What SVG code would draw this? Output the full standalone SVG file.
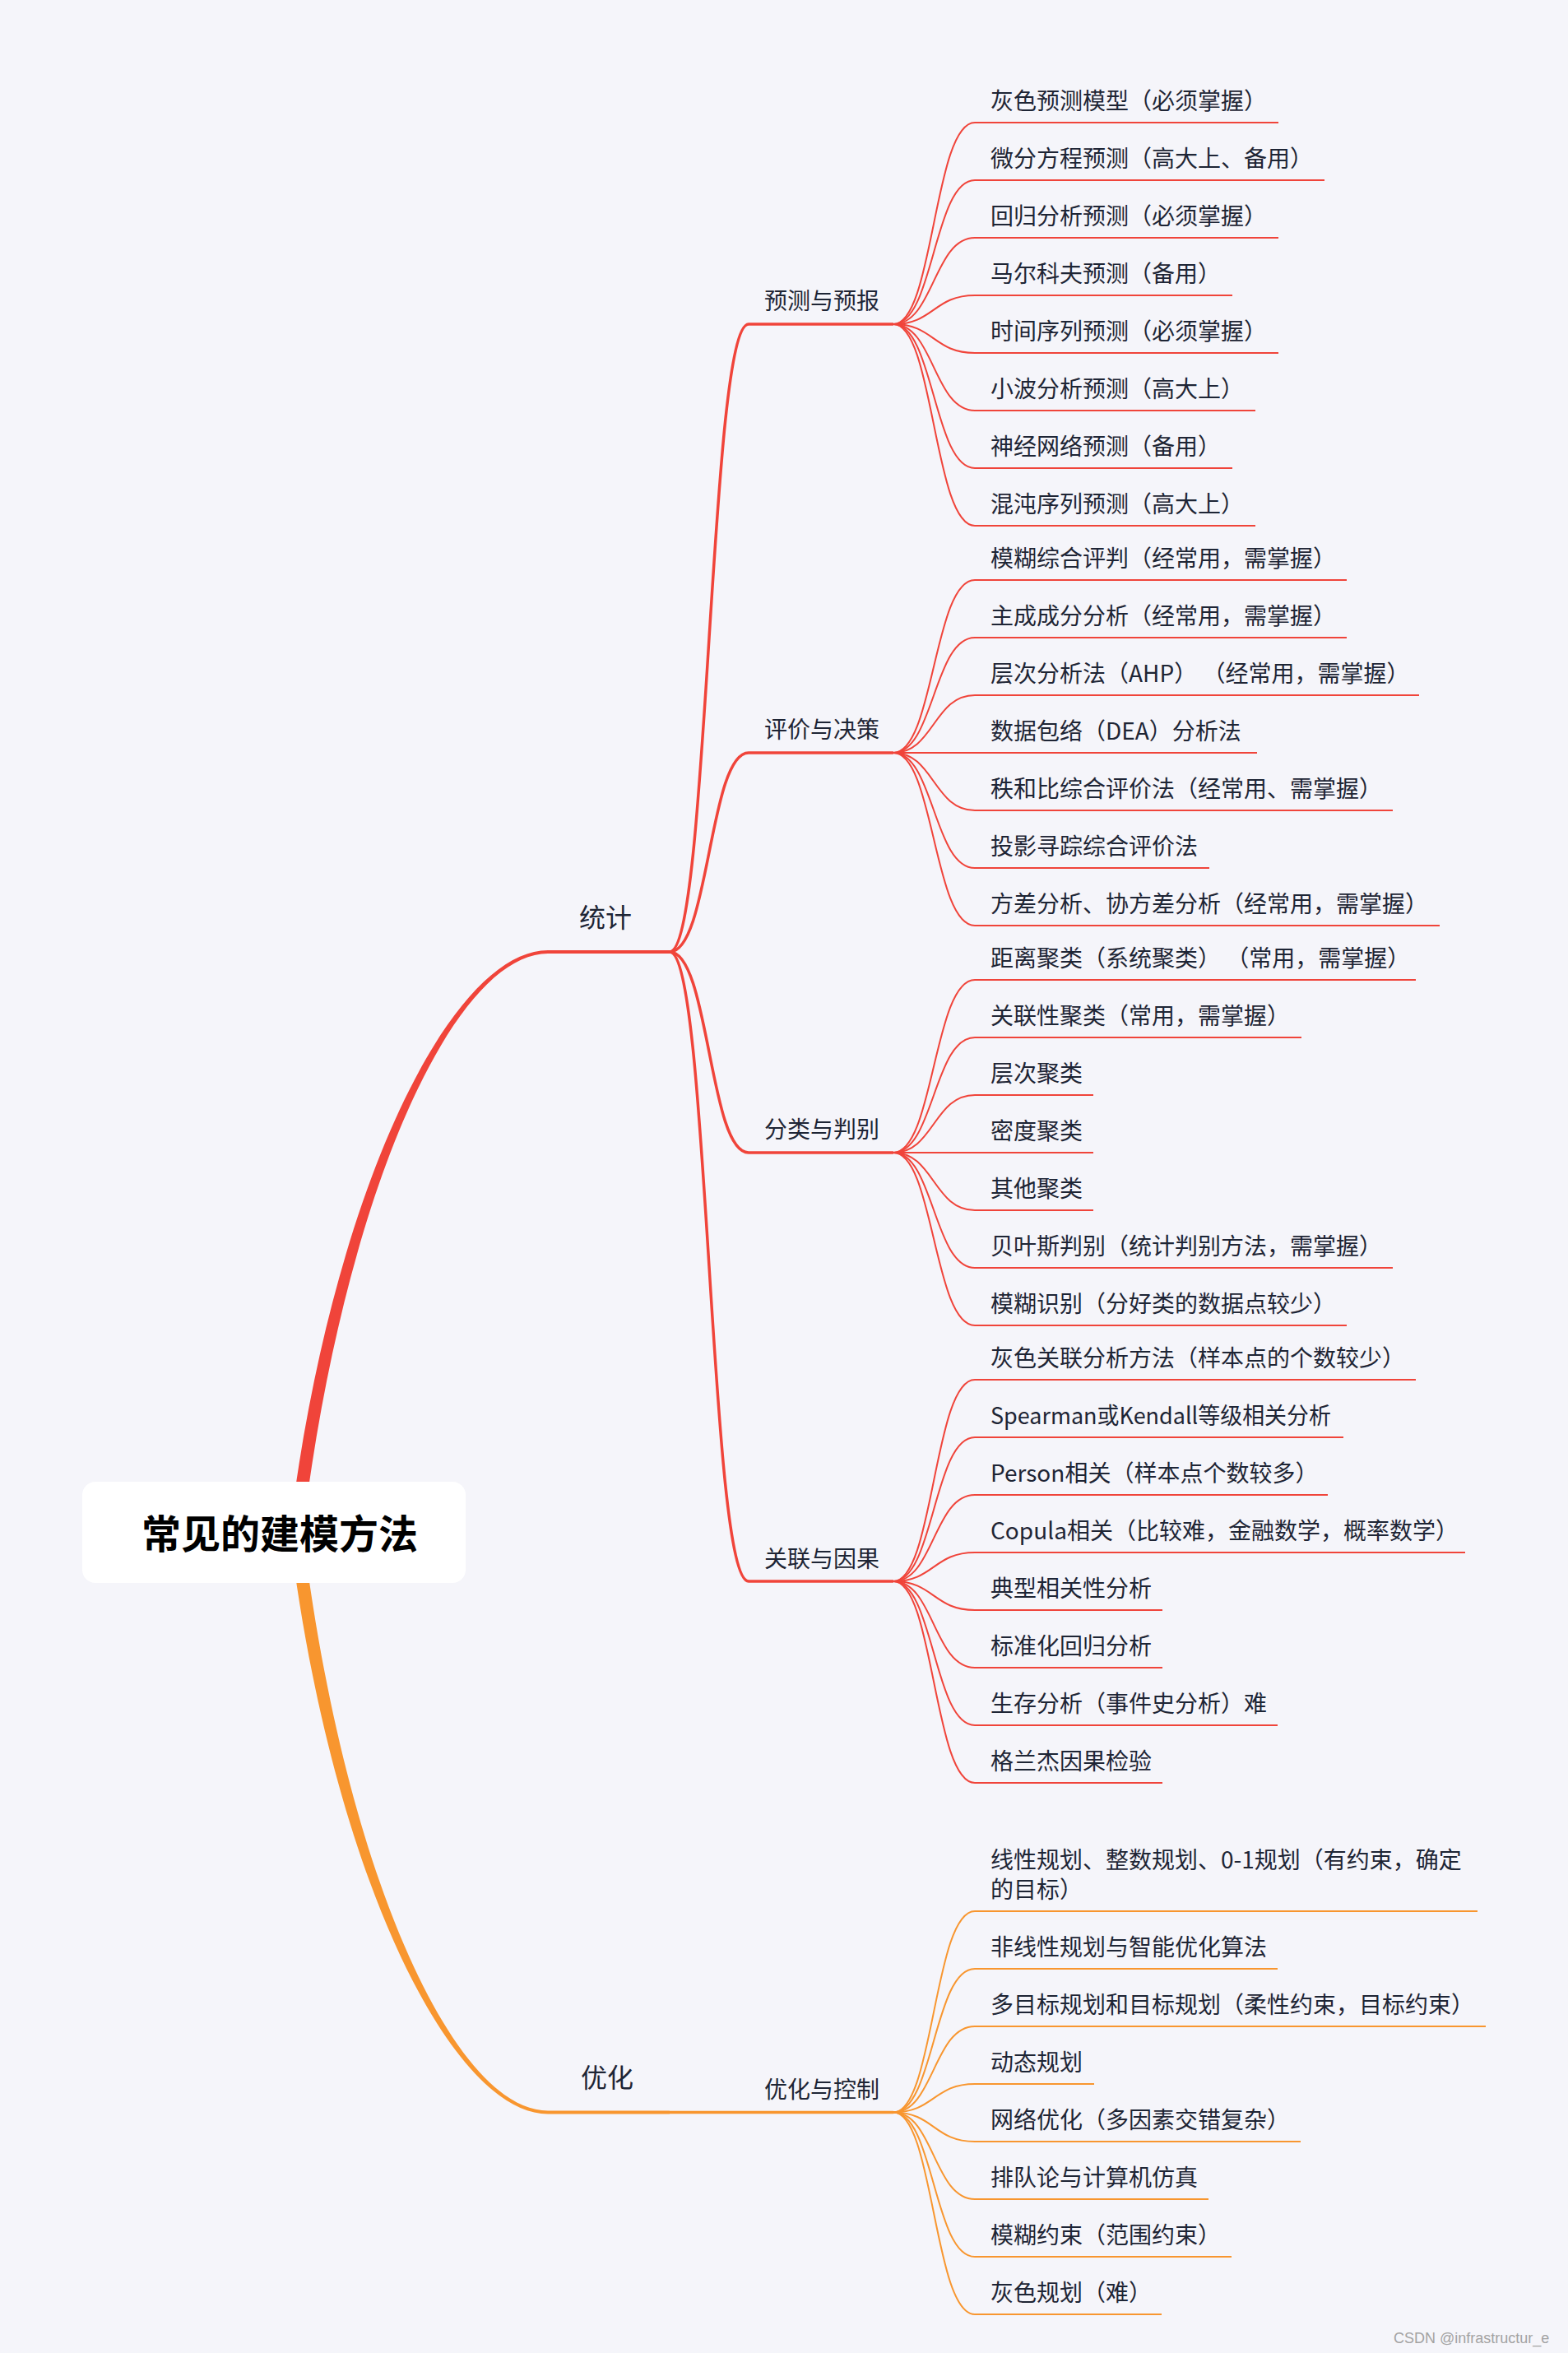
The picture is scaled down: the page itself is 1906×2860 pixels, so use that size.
<svg xmlns="http://www.w3.org/2000/svg" width="1906" height="2860" viewBox="0 0 1906 2860">
<style>
.t{font-family:"Noto Sans CJK SC","Noto Sans",sans-serif;fill:#1E2535;}
.leaf{font-size:28px;}
.sub{font-size:28px;}
.main{font-size:32px;}
.root{font-size:48px;font-weight:700;fill:#000;}
.r{stroke:#F0443A;fill:none;}
.o{stroke:#F8962F;fill:none;}
.c2{stroke-width:3.5;}
.c3{stroke-width:2;}
.ul{stroke-width:2;}
.ul2{stroke-width:3.5;}
.ul1{stroke-width:4;}
.wm{font-family:"Liberation Sans",Arial,sans-serif;font-size:18px;fill:#A3A3A3;}
</style>
<rect width="1906" height="2860" fill="#F5F5FA"/>
<g id="connectors">
<path d="M352 1862 C402 1450 548 1155 666 1155 L666 1159 C552 1159 418 1450 368 1862 Z" fill="#F0443A"/>
<path d="M352 1862 C402 2274 548 2569.5 666 2569.5 L666 2565.5 C552 2565.5 418 2274 368 1862 Z" fill="#F8962F"/>
<g class="r c2">
<path d="M814 1157 C862 1157 862 394 910 394"/>
<path d="M814 1157 C862 1157 862 915 910 915"/>
<path d="M814 1157 C862 1157 862 1401 910 1401"/>
<path d="M814 1157 C862 1157 862 1922 910 1922"/>
</g>
<path class="o c2" d="M814 2567.5 L910 2567.5"/>
<g class="r c3">
<path d="M1086 394 C1135 394 1135 149 1185 149"/>
<path d="M1086 394 C1135 394 1135 219 1185 219"/>
<path d="M1086 394 C1135 394 1135 289 1185 289"/>
<path d="M1086 394 C1135 394 1135 359 1185 359"/>
<path d="M1086 394 C1135 394 1135 429 1185 429"/>
<path d="M1086 394 C1135 394 1135 499 1185 499"/>
<path d="M1086 394 C1135 394 1135 569 1185 569"/>
<path d="M1086 394 C1135 394 1135 639 1185 639"/>
<path d="M1086 915 C1135 915 1135 705 1185 705"/>
<path d="M1086 915 C1135 915 1135 775 1185 775"/>
<path d="M1086 915 C1135 915 1135 845 1185 845"/>
<path d="M1086 915 C1135 915 1135 915 1185 915"/>
<path d="M1086 915 C1135 915 1135 985 1185 985"/>
<path d="M1086 915 C1135 915 1135 1055 1185 1055"/>
<path d="M1086 915 C1135 915 1135 1125 1185 1125"/>
<path d="M1086 1401 C1135 1401 1135 1191 1185 1191"/>
<path d="M1086 1401 C1135 1401 1135 1261 1185 1261"/>
<path d="M1086 1401 C1135 1401 1135 1331 1185 1331"/>
<path d="M1086 1401 C1135 1401 1135 1401 1185 1401"/>
<path d="M1086 1401 C1135 1401 1135 1471 1185 1471"/>
<path d="M1086 1401 C1135 1401 1135 1541 1185 1541"/>
<path d="M1086 1401 C1135 1401 1135 1611 1185 1611"/>
<path d="M1086 1922 C1135 1922 1135 1677 1185 1677"/>
<path d="M1086 1922 C1135 1922 1135 1747 1185 1747"/>
<path d="M1086 1922 C1135 1922 1135 1817 1185 1817"/>
<path d="M1086 1922 C1135 1922 1135 1887 1185 1887"/>
<path d="M1086 1922 C1135 1922 1135 1957 1185 1957"/>
<path d="M1086 1922 C1135 1922 1135 2027 1185 2027"/>
<path d="M1086 1922 C1135 1922 1135 2097 1185 2097"/>
<path d="M1086 1922 C1135 1922 1135 2167 1185 2167"/>
</g>
<g class="o c3">
<path d="M1086 2567.5 C1135 2567.5 1135 2323 1185 2323"/>
<path d="M1086 2567.5 C1135 2567.5 1135 2393 1185 2393"/>
<path d="M1086 2567.5 C1135 2567.5 1135 2463 1185 2463"/>
<path d="M1086 2567.5 C1135 2567.5 1135 2533 1185 2533"/>
<path d="M1086 2567.5 C1135 2567.5 1135 2603 1185 2603"/>
<path d="M1086 2567.5 C1135 2567.5 1135 2673 1185 2673"/>
<path d="M1086 2567.5 C1135 2567.5 1135 2743 1185 2743"/>
<path d="M1086 2567.5 C1135 2567.5 1135 2813 1185 2813"/>
</g>
</g>
<g id="root">
<rect x="100" y="1801" width="466" height="123" rx="16" fill="#FFFFFF"/>
<text class="t root" x="172" y="1882">常见的建模方法</text>
</g>
<g id="tongji"><path class="r ul1" d="M666 1157 H814"/><text class="t main" x="704" y="1127">统计</text></g>
<g id="youhua"><path class="o ul1" d="M666 2567.5 H814"/><text class="t main" x="706" y="2537">优化</text></g>
<g id="yuce"><path class="r ul2" d="M910 394 H1086"/><text class="t sub" x="929" y="376">预测与预报</text></g>
<g id="pingjia"><path class="r ul2" d="M910 915 H1086"/><text class="t sub" x="929" y="897">评价与决策</text></g>
<g id="fenlei"><path class="r ul2" d="M910 1401 H1086"/><text class="t sub" x="929" y="1383">分类与判别</text></g>
<g id="guanlian"><path class="r ul2" d="M910 1922 H1086"/><text class="t sub" x="929" y="1905">关联与因果</text></g>
<g id="kongzhi"><path class="o ul2" d="M910 2567.5 H1086"/><text class="t sub" x="929" y="2550">优化与控制</text></g>
<g id="l1"><path class="r ul" d="M1185 149 H1554"/><text class="t leaf" x="1204" y="133">灰色预测模型（必须掌握）</text></g>
<g id="l2"><path class="r ul" d="M1185 219 H1610"/><text class="t leaf" x="1204" y="203">微分方程预测（高大上、备用）</text></g>
<g id="l3"><path class="r ul" d="M1185 289 H1554"/><text class="t leaf" x="1204" y="273">回归分析预测（必须掌握）</text></g>
<g id="l4"><path class="r ul" d="M1185 359 H1498"/><text class="t leaf" x="1204" y="343">马尔科夫预测（备用）</text></g>
<g id="l5"><path class="r ul" d="M1185 429 H1554"/><text class="t leaf" x="1204" y="413">时间序列预测（必须掌握）</text></g>
<g id="l6"><path class="r ul" d="M1185 499 H1526"/><text class="t leaf" x="1204" y="483">小波分析预测（高大上）</text></g>
<g id="l7"><path class="r ul" d="M1185 569 H1498"/><text class="t leaf" x="1204" y="553">神经网络预测（备用）</text></g>
<g id="l8"><path class="r ul" d="M1185 639 H1526"/><text class="t leaf" x="1204" y="623">混沌序列预测（高大上）</text></g>
<g id="l9"><path class="r ul" d="M1185 705 H1637"/><text class="t leaf" x="1204" y="689">模糊综合评判（经常用，需掌握）</text></g>
<g id="l10"><path class="r ul" d="M1185 775 H1637"/><text class="t leaf" x="1204" y="759">主成成分分析（经常用，需掌握）</text></g>
<g id="l11"><path class="r ul" d="M1185 845 H1725"/><text class="t leaf" x="1204" y="829">层次分析法（AHP） （经常用，需掌握）</text></g>
<g id="l12"><path class="r ul" d="M1185 915 H1528"/><text class="t leaf" x="1204" y="899">数据包络（DEA）分析法</text></g>
<g id="l13"><path class="r ul" d="M1185 985 H1693"/><text class="t leaf" x="1204" y="969">秩和比综合评价法（经常用、需掌握）</text></g>
<g id="l14"><path class="r ul" d="M1185 1055 H1470"/><text class="t leaf" x="1204" y="1039">投影寻踪综合评价法</text></g>
<g id="l15"><path class="r ul" d="M1185 1125 H1750"/><text class="t leaf" x="1204" y="1109">方差分析、协方差分析（经常用，需掌握）</text></g>
<g id="l16"><path class="r ul" d="M1185 1191 H1721"/><text class="t leaf" x="1204" y="1175">距离聚类（系统聚类） （常用，需掌握）</text></g>
<g id="l17"><path class="r ul" d="M1185 1261 H1582"/><text class="t leaf" x="1204" y="1245">关联性聚类（常用，需掌握）</text></g>
<g id="l18"><path class="r ul" d="M1185 1331 H1329"/><text class="t leaf" x="1204" y="1315">层次聚类</text></g>
<g id="l19"><path class="r ul" d="M1185 1401 H1329"/><text class="t leaf" x="1204" y="1385">密度聚类</text></g>
<g id="l20"><path class="r ul" d="M1185 1471 H1329"/><text class="t leaf" x="1204" y="1455">其他聚类</text></g>
<g id="l21"><path class="r ul" d="M1185 1541 H1693"/><text class="t leaf" x="1204" y="1525">贝叶斯判别（统计判别方法，需掌握）</text></g>
<g id="l22"><path class="r ul" d="M1185 1611 H1637"/><text class="t leaf" x="1204" y="1595">模糊识别（分好类的数据点较少）</text></g>
<g id="l23"><path class="r ul" d="M1185 1677 H1721"/><text class="t leaf" x="1204" y="1661">灰色关联分析方法（样本点的个数较少）</text></g>
<g id="l24"><path class="r ul" d="M1185 1747 H1633"/><text class="t leaf" x="1204" y="1731" textLength="414" lengthAdjust="spacingAndGlyphs">Spearman或Kendall等级相关分析</text></g>
<g id="l25"><path class="r ul" d="M1185 1817 H1614"/><text class="t leaf" x="1204" y="1801">Person相关（样本点个数较多）</text></g>
<g id="l26"><path class="r ul" d="M1185 1887 H1781"/><text class="t leaf" x="1204" y="1871">Copula相关（比较难，金融数学，概率数学）</text></g>
<g id="l27"><path class="r ul" d="M1185 1957 H1413"/><text class="t leaf" x="1204" y="1941">典型相关性分析</text></g>
<g id="l28"><path class="r ul" d="M1185 2027 H1413"/><text class="t leaf" x="1204" y="2011">标准化回归分析</text></g>
<g id="l29"><path class="r ul" d="M1185 2097 H1553"/><text class="t leaf" x="1204" y="2081">生存分析（事件史分析）难</text></g>
<g id="l30"><path class="r ul" d="M1185 2167 H1413"/><text class="t leaf" x="1204" y="2151">格兰杰因果检验</text></g>
<g id="l31"><path class="o ul" d="M1185 2323 H1796"/><text class="t leaf" x="1204" y="2271">线性规划、整数规划、0-1规划（有约束，确定</text><text class="t leaf" x="1204" y="2307">的目标）</text></g>
<g id="l32"><path class="o ul" d="M1185 2393 H1553"/><text class="t leaf" x="1204" y="2377">非线性规划与智能优化算法</text></g>
<g id="l33"><path class="o ul" d="M1185 2463 H1806"/><text class="t leaf" x="1204" y="2447">多目标规划和目标规划（柔性约束，目标约束）</text></g>
<g id="l34"><path class="o ul" d="M1185 2533 H1330"/><text class="t leaf" x="1204" y="2517">动态规划</text></g>
<g id="l35"><path class="o ul" d="M1185 2603 H1581"/><text class="t leaf" x="1204" y="2587">网络优化（多因素交错复杂）</text></g>
<g id="l36"><path class="o ul" d="M1185 2673 H1469"/><text class="t leaf" x="1204" y="2657">排队论与计算机仿真</text></g>
<g id="l37"><path class="o ul" d="M1185 2743 H1497"/><text class="t leaf" x="1204" y="2727">模糊约束（范围约束）</text></g>
<g id="l38"><path class="o ul" d="M1185 2813 H1412"/><text class="t leaf" x="1204" y="2797">灰色规划（难）</text></g>
<text class="wm" x="1694" y="2848">CSDN @infrastructur_e</text>
</svg>
